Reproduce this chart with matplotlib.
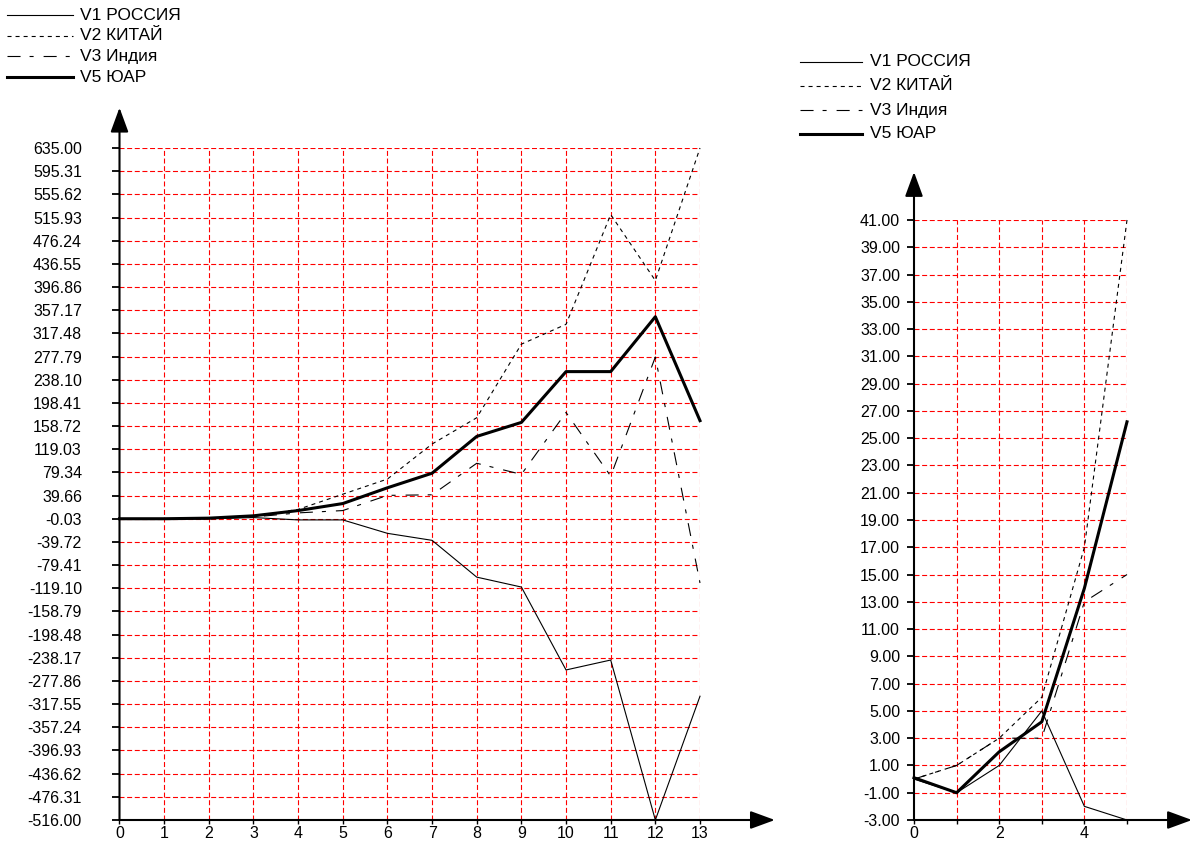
import numpy as np
import matplotlib
matplotlib.use("Agg")
import matplotlib.pyplot as plt
from matplotlib.lines import Line2D

plt.rcParams['font.family'] = ['Liberation Sans', 'DejaVu Sans']
plt.rcParams['lines.scale_dashes'] = False

W, H = 1194, 846
FS = 11.5
FS_LEG = 12.5

# ── data ────────────────────────────────────────────────────────────────
NAMES = ["V1 РОССИЯ", "V2 КИТАЙ", "V3 Индия", "V5 ЮАР"]

X_LEFT = list(range(14))
RUSSIA_L = [0, 0, 0, 2, -2, -2, -25, -37, -100, -117, -259, -242, -516, -304]
CHINA_L = [0, 0, 0, 4, 16, 42, 68, 128, 173, 299, 333, 521, 408, 635]
INDIA_L = [0, 0, 0, 3, 10, 14, 40, 41, 95, 76, 182, 73, 277, -110]
RSA_L = [0, 0, 1, 5, 14, 26, 53, 78, 141, 165, 252, 252, 346, 168]
LEFT_YTICKS = ["-516.00", "-476.31", "-436.62", "-396.93", "-357.24", "-317.55",
               "-277.86", "-238.17", "-198.48", "-158.79", "-119.10", "-79.41",
               "-39.72", "-0.03", "39.66", "79.34", "119.03", "158.72", "198.41",
               "238.10", "277.79", "317.48", "357.17", "396.86", "436.55",
               "476.24", "515.93", "555.62", "595.31", "635.00"]
LEFT_XLABELS = [str(i) for i in X_LEFT]

X_RIGHT = list(range(6))
RUSSIA_R = [0, -1, 1, 5, -2, -3]
CHINA_R = [0, 1, 3, 6, 17, 41]
INDIA_R = [0, 1, 3, 3, 13, 15]
RSA_R = [0.1, -1, 2, 4.2, 14, 26.2]
RIGHT_YTICKS = ["-3.00", "-1.00", "1.00", "3.00", "5.00", "7.00", "9.00", "11.00",
                "13.00", "15.00", "17.00", "19.00", "21.00", "23.00", "25.00",
                "27.00", "29.00", "31.00", "33.00", "35.00", "37.00", "39.00", "41.00"]
RIGHT_XLABELS = ["0", "", "2", "", "4", ""]

# ── styles (1 px = 0.72 pt) ─────────────────────────────────────────────
STYLES = [
    dict(color="black", lw=0.8, ls="-"),
    dict(color="black", lw=0.8, ls=(0, (2.9, 2.9))),
    dict(color="black", lw=0.8, ls=(0, (9.4, 6.5, 2.9, 7.2))),
    dict(color="black", lw=2.2, ls="-"),
]
GRID_RED = "#FF0000"


def px(x, y):
    return x / W, 1 - y / H


fig = plt.figure(figsize=(W / 100, H / 100), dpi=100, facecolor="white")


def panel(rect, xs, series, yticks, xlabels, tip, ypad):
    l, t, r, b = rect
    x0, y0 = px(l, b)
    x1, y1 = px(r, t)
    ax = fig.add_axes([x0, y0, x1 - x0, y1 - y0])
    yv = [float(s) for s in yticks]
    ax.set_xlim(xs[0], xs[-1])
    ax.set_ylim(yv[0], yv[-1])
    for s in ax.spines.values():
        s.set_visible(False)

    # red dashed grid
    for v in yv:
        ax.axhline(v, color=GRID_RED, lw=0.8, ls=(0, (3.6, 1.9)), zorder=1)
    for v in xs[1:]:
        ax.axvline(v, color=GRID_RED, lw=0.8, ls=(0, (3.6, 1.9)), zorder=1)

    for ys, st in zip(series, STYLES):
        ax.plot(xs, ys, color=st["color"], lw=st["lw"], ls=st["ls"], zorder=3,
                clip_on=False)

    ax.set_yticks(yv)
    ax.set_yticklabels(yticks)
    ax.set_xticks(xs)
    ax.set_xticklabels(xlabels)
    ax.tick_params(axis="y", length=5, width=1.3, pad=ypad, labelsize=FS,
                   colors="black")
    ax.tick_params(axis="x", length=3, width=1.0, pad=1.5, labelsize=FS,
                   colors="black")

    # axes with arrow heads
    arrow = dict(arrowstyle="-|>,head_length=1.5,head_width=0.55",
                 mutation_scale=10, lw=1.5, color="black",
                 shrinkA=0, shrinkB=0)
    ax.annotate("", xy=(tip[0], 0), xytext=(0, 0), xycoords="axes fraction",
                textcoords="axes fraction", arrowprops=arrow, zorder=5,
                annotation_clip=False)
    ax.annotate("", xy=(0, tip[1]), xytext=(0, 0), xycoords="axes fraction",
                textcoords="axes fraction", arrowprops=arrow, zorder=5,
                annotation_clip=False)
    return ax


def legend(x0, x1, xt, rows):
    for name, st, y in zip(NAMES, STYLES, rows):
        fx0, fy = px(x0, y)
        fx1, _ = px(x1, y)
        fig.add_artist(Line2D([fx0, fx1], [fy, fy], transform=fig.transFigure,
                              color=st["color"], lw=st["lw"], ls=st["ls"]))
        tx, _ = px(xt, y)
        fig.text(tx, fy, name, fontsize=FS_LEG, va="center", ha="left",
                 color="black")


panel((119.5, 148, 700, 820), X_LEFT, [RUSSIA_L, CHINA_L, INDIA_L, RSA_L],
      LEFT_YTICKS, LEFT_XLABELS, (1.129, 1.06), 22)
panel((914, 220, 1127, 820), X_RIGHT, [RUSSIA_R, CHINA_R, INDIA_R, RSA_R],
      RIGHT_YTICKS, RIGHT_XLABELS, (1.305, 1.08), 5)

legend(7, 73, 80, [15, 36, 56, 77])
legend(800, 862, 870, [62, 86, 110, 134])

fig.savefig("out.png", dpi=100, facecolor="white")
